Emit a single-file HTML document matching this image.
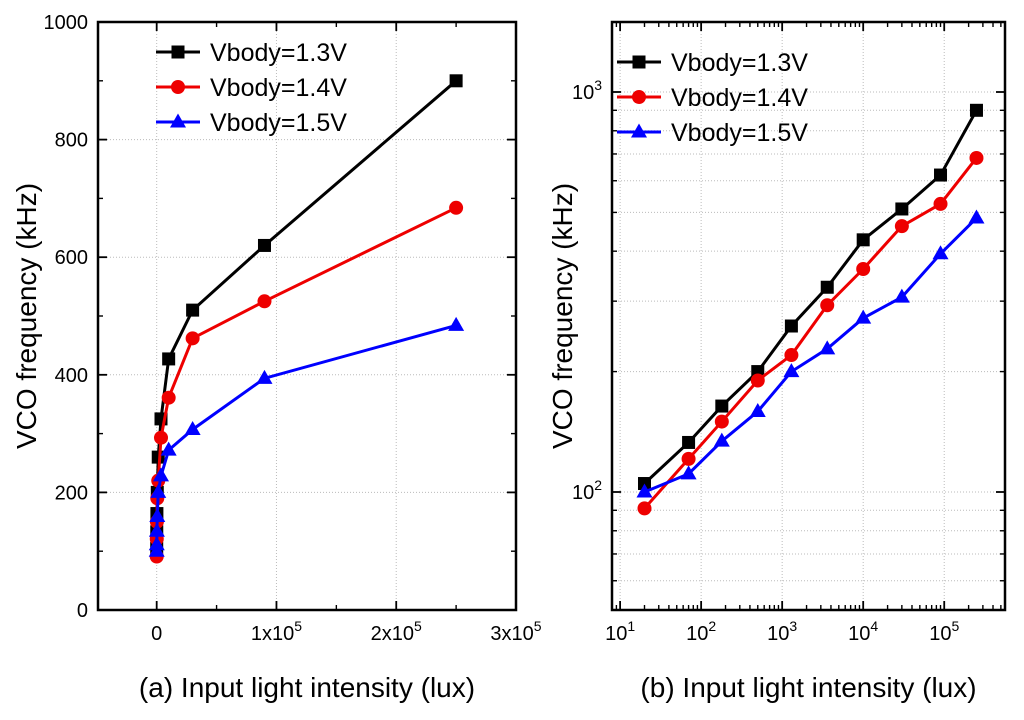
<!DOCTYPE html>
<html><head><meta charset="utf-8"><style>
body{margin:0;background:#fff}
svg{font-family:"Liberation Sans",Arial,sans-serif}
</style></head><body>
<svg id="c" width="1024" height="715" viewBox="0 0 1024 715" xmlns="http://www.w3.org/2000/svg"></svg>
<script>
const lux = [20, 70, 180, 500, 1300, 3600, 10000, 30000, 90000, 250000];
const v13 = [105, 133, 164, 200, 260, 325, 427, 510, 620, 900];
const v14 = [91, 121, 150, 190, 220, 293, 361, 462, 525, 684];
const v15 = [100, 111, 134, 159, 200, 228, 272, 307, 394, 484];
const seriesNames = ["Vbody=1.3V", "Vbody=1.4V", "Vbody=1.5V"];
const leftYTicks = [0, 200, 400, 600, 800, 1000];
const leftXTicks = [0, 100000, 200000, 300000];
const leftXLabels = ["0", "1x10^5", "2x10^5", "3x10^5"];
const rightXTicks = [1, 2, 3, 4, 5];
const rightYTicks = [2, 3];

const NS = "http://www.w3.org/2000/svg";
const svg = document.getElementById("c");
function el(tag, attrs, parent) {
  const e = document.createElementNS(NS, tag);
  for (const k in attrs) e.setAttribute(k, attrs[k]);
  (parent || svg).appendChild(e);
  return e;
}
function txt(s, x, y, size, anchor, parent) {
  const t = el("text", {x: x, y: y, "font-size": size, "text-anchor": anchor || "middle", fill: "#000"}, parent);
  const m = s.split("^");
  t.appendChild(document.createTextNode(m[0]));
  if (m[1]) {
    const sp = el("tspan", {dy: -9, "font-size": size * 0.7}, t);
    sp.textContent = m[1];
  }
  return t;
}
const colors = ["#000", "#e00", "#00f"];
const data = [v13, v14, v15];

function drawPanel(p) {
  const g = el("g", {});
  
  
  const {L, R, T, B} = p;
  p.gridX.forEach(v => { const x = p.sx(v); el("line", {x1: x, x2: x, y1: T, y2: B, stroke: "#bbb", "stroke-dasharray": "1,2", "stroke-width": 1}, g); });
  p.gridY.forEach(v => { const y = p.sy(v); el("line", {x1: L, x2: R, y1: y, y2: y, stroke: "#bbb", "stroke-dasharray": "1,2", "stroke-width": 1}, g); });
  p.majX.forEach(v => { const x = p.sx(v); el("line", {x1: x, x2: x, y1: B, y2: B - 9, stroke: "#000", "stroke-width": 1.8}, g); el("line", {x1: x, x2: x, y1: T, y2: T + 9, stroke: "#000", "stroke-width": 1.8}, g); });
  p.minX.forEach(v => { const x = p.sx(v); el("line", {x1: x, x2: x, y1: B, y2: B - 5, stroke: "#000", "stroke-width": 1.4}, g); el("line", {x1: x, x2: x, y1: T, y2: T + 5, stroke: "#000", "stroke-width": 1.4}, g); });
  p.majY.forEach(v => { const y = p.sy(v); el("line", {x1: L, x2: L + 9, y1: y, y2: y, stroke: "#000", "stroke-width": 1.8}, g); el("line", {x1: R, x2: R - 9, y1: y, y2: y, stroke: "#000", "stroke-width": 1.8}, g); });
  p.minY.forEach(v => { const y = p.sy(v); el("line", {x1: L, x2: L + 5, y1: y, y2: y, stroke: "#000", "stroke-width": 1.4}, g); el("line", {x1: R, x2: R - 5, y1: y, y2: y, stroke: "#000", "stroke-width": 1.4}, g); });
  el("rect", {x: L, y: T, width: R - L, height: B - T, fill: "none", stroke: "#000", "stroke-width": 2.5}, g);
  p.majX.forEach((v, i) => txt(p.xLab[i], p.sx(v), B + 30, 20, "middle", g));
  p.majY.forEach((v, i) => txt(p.yLab[i], L - 10, p.sy(v) + 7, 20, "end", g));
  const yt = txt("VCO frequency (kHz)", 0, 0, 28, "middle", g);
  yt.setAttribute("transform", `translate(${p.ytX},${(T + B) / 2}) rotate(-90)`);
  txt(p.xTitle, (L + R) / 2, 697, 28, "middle", g);
  data.forEach((d, si) => {
    const sg = el("g", {}, g);
    
    
    const pts = d.map((v, i) => [p.sx(lux[i]), p.sy(v)]);
    el("polyline", {points: pts.map(q => q.join(",")).join(" "), fill: "none", stroke: colors[si], "stroke-width": 3}, sg);
    pts.forEach(q => marker(si, q[0], q[1], sg));
  });
  seriesNames.forEach((n, si) => {
    const lg = el("g", {}, g);
    
    
    const y = p.legY + si * 35;
    el("line", {x1: p.legX, x2: p.legX + 44, y1: y, y2: y, stroke: colors[si], "stroke-width": 3}, lg);
    marker(si, p.legX + 22, y, lg);
    txt(n, p.legX + 54, y + 9, 25, "start", lg);
  });
}
function marker(si, x, y, g) {
  if (si === 0) el("rect", {x: x - 6.5, y: y - 6.5, width: 13, height: 13, fill: "#000"}, g);
  else if (si === 1) el("circle", {cx: x, cy: y, r: 7, fill: "#e00"}, g);
  else el("polygon", {points: `${x},${y - 8.5} ${x + 8},${y + 5.5} ${x - 8},${y + 5.5}`, fill: "#00f"}, g);
}

const lL = 98, lR = 516, lT = 22, lB = 610;
const lx0 = -49000, lx1 = 300000;
const leftMinY = []; for (let v = 100; v < 1000; v += 200) leftMinY.push(v);
drawPanel({
  name: "left-chart", L: lL, R: lR, T: lT, B: lB,
  sx: v => lL + (v - lx0) / (lx1 - lx0) * (lR - lL),
  sy: v => lB - v / 1000 * (lB - lT),
  gridX: leftXTicks.slice(0, 3), gridY: leftYTicks.slice(1, 5),
  majX: leftXTicks, minX: [50000, 150000, 250000],
  majY: leftYTicks, minY: leftMinY,
  xLab: leftXLabels, yLab: leftYTicks.map(String),
  ytX: 36, xTitle: "(a) Input light intensity (lux)", legX: 156, legY: 52
});

const rL = 612, rR = 1005, rT = 22, rB = 610;
const rx0 = 0.9, rx1 = 5.75, ry0 = 1.705, ry1 = 3.175;
const rMinX = [], rMinY = [];
for (let d = 0; d <= 5; d++) for (let k = 2; k <= 9; k++) { const v = Math.log10(k) + d; if (v > rx0 && v < rx1) rMinX.push(Math.pow(10, v)); }
for (let d = 1; d <= 3; d++) for (let k = 2; k <= 9; k++) { const v = Math.log10(k) + d; if (v > ry0 && v < ry1) rMinY.push(Math.pow(10, v)); }
const sxR = v => rL + (Math.log10(v) - rx0) / (rx1 - rx0) * (rR - rL);
const syR = v => rB - (Math.log10(v) - ry0) / (ry1 - ry0) * (rB - rT);
drawPanel({
  name: "right-chart", L: rL, R: rR, T: rT, B: rB,
  sx: sxR, sy: syR,
  gridX: rightXTicks.map(e => Math.pow(10, e)),
  gridY: rightYTicks.map(e => Math.pow(10, e)).concat(rMinY),
  majX: rightXTicks.map(e => Math.pow(10, e)), minX: rMinX,
  majY: rightYTicks.map(e => Math.pow(10, e)), minY: rMinY,
  xLab: rightXTicks.map(e => "10^" + e), yLab: rightYTicks.map(e => "10^" + e),
  ytX: 572, xTitle: "(b) Input light intensity (lux)", legX: 617, legY: 62
});
</script>
</body></html>
